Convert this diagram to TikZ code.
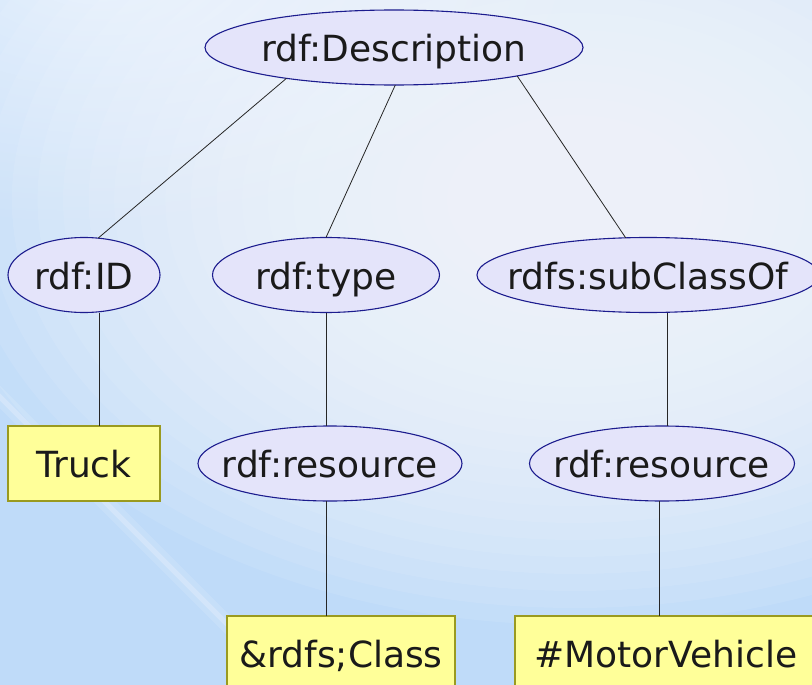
\documentclass[tikz,border=0pt]{standalone}
\usepackage{fontspec}
\setmainfont{DejaVu Sans}
\usetikzlibrary{shapes.geometric,fadings}
\definecolor{bgblue}{HTML}{BFDBF9}
\definecolor{bglight}{HTML}{F6F9FE}
\definecolor{ellfill}{HTML}{E4E4FA}
\definecolor{ellline}{HTML}{1C1C8E}
\definecolor{boxfill}{HTML}{FFFF99}
\definecolor{boxline}{HTML}{9A9A20}
\definecolor{txt}{HTML}{1A1A1A}
\tikzfading[name=softglow, inner color=transparent!0, outer color=transparent!100]
\begin{document}
\begin{tikzpicture}[x=1pt,y=-1pt,
  lbl/.style={font=\fontsize{36}{40}\selectfont, text height=28pt, text depth=0pt, text=txt, outer sep=0pt},
  prop/.style={lbl, ellipse, draw=ellline, line width=1.1pt, fill=ellfill, inner sep=0pt, minimum height=75pt},
  val/.style={lbl, rectangle, draw=boxline, line width=1.1pt, fill=boxfill, inner sep=0pt, minimum height=75pt},
  link/.style={draw=black!85, line width=0.8pt}]
% background
\useasboundingbox (0,0) rectangle (812,685);
\begin{scope}
\clip (0,0) rectangle (812,685);
\fill[bgblue] (0,0) rectangle (812,685);
\foreach \k in {1,...,25}{
  \fill[bglight, opacity=0.1] (575,200) ellipse [x radius=\k*25.6, y radius=\k*17];
}
\fill[bglight, opacity=0.7, path fading=softglow] (100,-30) ellipse [x radius=500, y radius=260];
\draw[white, opacity=0.22, line width=5pt] (-10,387) -- (236,633);
\draw[white, opacity=0.12, line width=16pt] (-10,387) -- (236,633);
\end{scope}
% nodes
\node[prop, minimum width=378pt] (d) at (394,47.5) {rdf:Description};
\node[prop, minimum width=152pt] (id) at (84,275) {rdf:ID};
\node[prop, minimum width=227pt] (ty) at (326,275) {rdf:type};
\node[prop, minimum width=342pt, inner xsep=-19.6pt] (sc) at (648,275) {rdfs:subClassOf};
\node[prop, minimum width=264pt, inner xsep=-16.7pt] (r1) at (330,463.5) {rdf:resource};
\node[prop, minimum width=265pt, inner xsep=-16.5pt] (r2) at (662,463.5) {rdf:resource};
\node[val, minimum width=152pt] (truck) at (84,463.5) {Truck};
\node[val, minimum width=228pt] (cls) at (341,653.5) {\&rdfs;Class};
\node[val, minimum width=302pt] (mv) at (666,653.5) {\#MotorVehicle};
% connectors
\draw[link] (d.-164) -- (id.69);
\draw[link] (d.-88) -- (ty.north);
\draw[link] (d.-13) -- (sc.121);
\draw[link] ([xshift=15pt]id.south) -- ([xshift=15pt]truck.north);
\draw[link] (ty.south) -- (ty.south |- r1.north);
\draw[link] ([xshift=19pt]sc.south) -- ([xshift=19pt]sc.south |- r2.north);
\draw[link] ([xshift=-4pt]r1.south) -- ([xshift=-4pt]r1.south |- cls.north);
\draw[link] ([xshift=-3pt]r2.south) -- ([xshift=-3pt]r2.south |- mv.north);
\end{tikzpicture}
\end{document}
